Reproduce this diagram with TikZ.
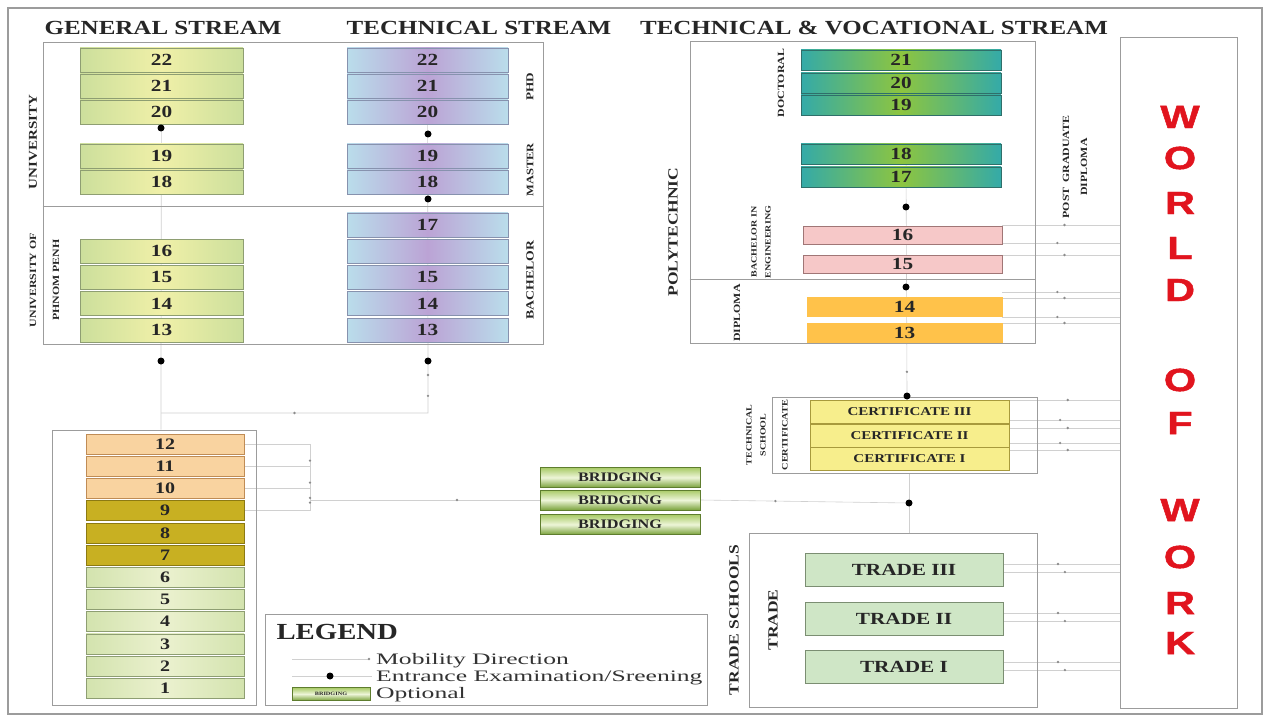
\documentclass[tikz,border=0pt]{standalone}
\usepackage{fontspec}
\setmainfont{Liberation Serif}[FakeStretch=1.25]
\newfontfamily\legfont{Liberation Serif}[FakeStretch=1.6]
\newfontfamily\wowfont{Liberation Sans}[FakeStretch=1.3,FakeBold=1.5]
\usetikzlibrary{backgrounds}

\newcommand\fsz[1]{\fontsize{#1}{#1}\selectfont}

\definecolor{inkgray}{HTML}{262626}
\definecolor{framegray}{HTML}{9C9C9C}
\definecolor{linegray}{HTML}{D0D0D0}
\definecolor{genside}{HTML}{CCDF9C}
\definecolor{genmid}{HTML}{F0F0A8}
\definecolor{genedge}{HTML}{8E9E72}
\definecolor{techside}{HTML}{BADDEB}
\definecolor{techmid}{HTML}{BBA3D5}
\definecolor{techedge}{HTML}{8792AE}
\definecolor{docside}{HTML}{34AAA8}
\definecolor{docmid}{HTML}{8DC53F}
\definecolor{docedge}{HTML}{2F6F6A}
\definecolor{pinkfill}{HTML}{F6C8C8}
\definecolor{pinkedge}{HTML}{A07676}
\definecolor{orangefill}{HTML}{FFC24A}
\definecolor{certfill}{HTML}{F7EE8C}
\definecolor{certedge}{HTML}{A89A3C}
\definecolor{tradefill}{HTML}{CFE6C6}
\definecolor{tradeedge}{HTML}{7B8E72}
\definecolor{peachfill}{HTML}{F9D3A0}
\definecolor{peachedge}{HTML}{C08C55}
\definecolor{goldfill}{HTML}{C8B022}
\definecolor{goldedge}{HTML}{8C7A12}
\definecolor{primside}{HTML}{D3E3AE}
\definecolor{primmid}{HTML}{EBF1CF}
\definecolor{bridgetop}{HTML}{A8CA66}
\definecolor{bridgemid}{HTML}{EDF5D8}
\definecolor{bridgebot}{HTML}{7AA23C}
\definecolor{bridgeedge}{HTML}{5E7D2E}
\definecolor{wowred}{HTML}{E1141E}

\begin{document}
\begin{tikzpicture}[x=1pt,y=-1pt,
  grp/.style={draw=framegray, line width=0.8pt, inner sep=0pt},
  yr/.style={inner sep=0pt, line width=0.6pt, font=\bfseries\fsz{17}, text=inkgray},
  gen/.style={yr, draw=genedge, left color=genside, right color=genside, middle color=genmid, minimum width=163pt, minimum height=24pt},
  tech/.style={yr, draw=techedge, left color=techside, right color=techside, middle color=techmid, minimum width=161pt, minimum height=24pt},
  doc/.style={yr, draw=docedge, left color=docside, right color=docside, middle color=docmid, minimum width=200pt, minimum height=20pt},
  beng/.style={yr, draw=pinkedge, fill=pinkfill, minimum width=199pt, minimum height=18pt},
  dipl/.style={yr, draw=orangefill, fill=orangefill, minimum width=195pt, minimum height=19pt},
  cert/.style={yr, draw=certedge, fill=certfill, minimum width=199pt, minimum height=23pt, font=\bfseries\fsz{12}},
  trade/.style={yr, draw=tradeedge, fill=tradefill, minimum width=198pt, minimum height=33pt},
  grade/.style={yr, minimum width=158pt, minimum height=20pt, font=\bfseries\fsz{16}},
  gradeup/.style={grade, draw=peachedge, fill=peachfill},
  gradejr/.style={grade, draw=goldedge, fill=goldfill},
  gradepr/.style={grade, draw=genedge, left color=primside, right color=primside, middle color=primmid},
  bridge/.style={yr, draw=bridgeedge, top color=bridgetop, bottom color=bridgebot, middle color=bridgemid, minimum width=160pt, minimum height=20pt, font=\bfseries\fsz{13}},
  head/.style={font=\bfseries\fsz{20}, text=black!85},
  lab/.style={rotate=90, align=center, inner sep=0pt, text=black!85, font=\bfseries\fsz{#1}},
  exam/.style={circle, fill=black, inner sep=0pt, minimum size=7pt},
  mob/.style={draw=linegray, line width=0.6pt},
  mk/.style={circle, fill=black!45, inner sep=0pt, minimum size=2.6pt},
  legtext/.style={anchor=base west, inner sep=0pt, font=\legfont\fsz{16}, text=black!80},
  wowl/.style={font=\wowfont\bfseries\fsz{32}, text=wowred}
]
  \useasboundingbox (0,0) rectangle (1271,722);
  \draw[framegray, line width=1.2pt] (8,8) rectangle (1262,714);

  % Headings
  \node[head] (hgen) at (163,28) {GENERAL STREAM};
  \node[head] (htech) at (479,28) {TECHNICAL STREAM};
  \node[head] (htvet) at (874,28) {TECHNICAL \& VOCATIONAL STREAM};

  % Group boxes
  \node[grp, minimum width=500pt, minimum height=302pt] (uni) at (293,193) {};
  \node[grp, minimum width=204pt, minimum height=275pt] (lowbox) at (154,567.5) {};
  \node[grp, minimum width=345pt, minimum height=302pt] (poly) at (862.5,192) {};
  \node[grp, minimum width=265pt, minimum height=76pt] (techsch) at (904.5,435) {};
  \node[grp, minimum width=288pt, minimum height=174pt] (trades) at (893,620) {};
  \node[grp, minimum width=117pt, minimum height=671pt] (wow) at (1178.5,372.5) {};
  \node[grp, minimum width=442pt, minimum height=91pt] (legend) at (486,659.5) {};
  \coordinate (udiv) at (0,206);
  \coordinate (pdiv) at (0,279);
  \draw[grp] (uni.west |- udiv) -- (uni.east |- udiv);
  \draw[grp] (poly.west |- pdiv) -- (poly.east |- pdiv);

  % Years
  \foreach \n/\yy in {22/60,21/86,20/112,19/156,18/182,16/251,15/277,14/303.5,13/330}
    \node[gen] (g\n) at (161.5,\yy) {\n};
  \foreach \n/\yy in {22/60,21/86,20/112,19/156,18/182,17/225,15/277,14/303.5,13/330}
    \node[tech] (t\n) at (427.5,\yy) {\n};
  \node[tech] (t16) at (427.5,251) {};
  \foreach \n/\yy in {21/60,20/83,19/105,18/154,17/177}
    \node[doc] (p\n) at (901,\yy) {\n};
  \foreach \n/\yy in {16/235,15/264}
    \node[beng] (p\n) at (902.5,\yy) {\n};
  \foreach \n/\yy in {14/307,13/332.5}
    \node[dipl] (p\n) at (904.5,\yy) {\n};
  \foreach \n/\r/\yy in {3/III/411.5,2/II/435.5,1/I/459}
    \node[cert] (c\n) at (909.5,\yy) {CERTIFICATE \r};
  \foreach \n/\r/\yy in {3/III/570,2/II/619,1/I/667}
    \node[trade] (tr\n) at (904,\yy) {TRADE \r};
  \foreach \g in {12,11,10} {
    \pgfmathsetmacro\yy{444+(12-\g)*22.2}
    \node[gradeup] (y\g) at (165,\yy) {\g};
  }
  \foreach \g in {9,8,7} {
    \pgfmathsetmacro\yy{444+(12-\g)*22.2}
    \node[gradejr] (y\g) at (165,\yy) {\g};
  }
  \foreach \g in {6,...,1} {
    \pgfmathsetmacro\yy{444+(12-\g)*22.2}
    \node[gradepr] (y\g) at (165,\yy) {\g};
  }
  \foreach \n/\yy in {1/477.5,2/500,3/524.5}
    \node[bridge] (br\n) at (620,\yy) {BRIDGING};

  % Side labels
  \node[lab=12] (lUni) at (33,142) {UNIVERSITY};
  \node[lab=9.5] (lRupp) at (44.5,280) {UNIVERSITY OF\\[13.5pt]PHNOM PENH};
  \node[lab=10.5] (lPhd) at (530,87) {PHD};
  \node[lab=10] (lMas) at (530,170) {MASTER};
  \node[lab=11] (lBac) at (530,280) {BACHELOR};
  \node[lab=14] (lPoly) at (673,232) {POLYTECHNIC};
  \node[lab=9.5] (lDoc) at (781,83) {DOCTORAL};
  \node[lab=8] (lBeng) at (761,242) {BACHELOR IN\\[6pt]ENGINEERING};
  \node[lab=9.5] (lDip) at (737,313) {DIPLOMA};
  \node[lab=9.5] (lPgd) at (1075,167) {POST\enspace GRADUATE\\[8.5pt]DIPLOMA};
  \node[lab=8] (lTs) at (756,435) {TECHNICAL\\[6pt]SCHOOL};
  \node[lab=8.3] (lCert) at (785,435) {CERTIFICATE};
  \node[lab=14] (lTsch) at (734,620) {TRADE SCHOOLS};
  \node[lab=14] (lTr) at (773,620) {TRADE};

  % World of work
  \foreach \ch/\yy [count=\i] in {W/117,O/158,R/203,L/248,D/290,O/380,F/423,W/510,O/557,R/603,K/643}
    \node[wowl] (wl\i) at (1180,\yy) {\ch};

  % Entrance points
  \node[exam] (gx1) at (161,128) {};
  \node[exam] (gx2) at (161,361) {};
  \node[exam] (tx1) at (428,134) {};
  \node[exam] (tx2) at (428,199) {};
  \node[exam] (tx3) at (428,361) {};
  \node[exam] (px1) at (906,207) {};
  \node[exam] (px2) at (906,287) {};
  \node[exam] (cx1) at (907,396) {};
  \node[exam] (cx2) at (909,503) {};
  \coordinate (tj) at (428,413);
  \coordinate (gj) at (161,413);
  \coordinate (sj) at (310,500);

  % Mobility lines
  \begin{scope}[on background layer]
    \draw[mob] (g22.center) -- (gx2.center) -- (gx2 |- lowbox.north);
    \draw[mob] (t22.center) -- (tx3.center)
      -- node[mk,pos=0.27]{} node[mk,pos=0.67]{} (tj)
      -- node[mk,pos=0.5]{} (gj);
    \foreach \g in {12,11,10,9}
      \draw[mob] (y\g.east) -- (y\g.east -| sj);
    \draw[mob] (y12.east -| sj) -- node[mk,pos=0.25]{} node[mk,pos=0.58]{}
      node[mk,pos=0.81]{} node[mk,pos=0.88]{} (y9.east -| sj);
    \draw[mob] (sj) -- node[mk,pos=0.64]{} (br2.west);
    \draw[mob] (br2.east) -- node[mk,pos=0.36]{} (cx2.center);
    \draw[mob] (techsch.south -| cx2) -- (cx2.center) -- (trades.north -| cx2);
    \draw[mob] (px1 |- p18.center) -- node[mk,pos=0.9]{} (cx1.center) -- (cx1 |- c1.south);
    \foreach \src/\dy/\p in {p16/10/0.53,p16/-8/0.47,p15/9/0.53,p14/15/0.47,p14/9/0.53,p14/-10/0.47,p13/9.5/0.53,
                            c3/11.5/0.53,c3/-8.5/0.46,c2/7.5/0.53,c2/-7.5/0.46,c1/9/0.53,
                            tr3/6/0.47,tr3/-2/0.53,tr2/6/0.47,tr2/-2/0.53,tr1/5/0.47,tr1/-3/0.53}
      \draw[mob] ([yshift=\dy pt]\src.east) -- node[mk,pos=\p]{} ([yshift=\dy pt]\src.east -| wow.west);
  \end{scope}

  % Legend
  \node[head, font=\bfseries\fsz{23}, anchor=west] (legt) at (273,632) {LEGEND};
  \coordinate (la1) at (292,659);
  \coordinate (la2) at (369,659);
  \draw[mob] (la1) -- (la2) node[mk]{};
  \coordinate (lb1) at (292,676);
  \coordinate (lb2) at (372,676);
  \draw[mob] (lb1) -- (lb2);
  \node[exam] (lbx) at (330,676) {};
  \node[bridge, minimum width=78pt, minimum height=13pt, font=\bfseries\fsz{5}] (lbr) at (331,694) {BRIDGING};
  \node[legtext] (lt1) at (376,664) {Mobility Direction};
  \node[legtext] (lt2) at (376,681) {Entrance Examination/Sreening};
  \node[legtext] (lt3) at (376,698) {Optional};
\end{tikzpicture}
\end{document}
